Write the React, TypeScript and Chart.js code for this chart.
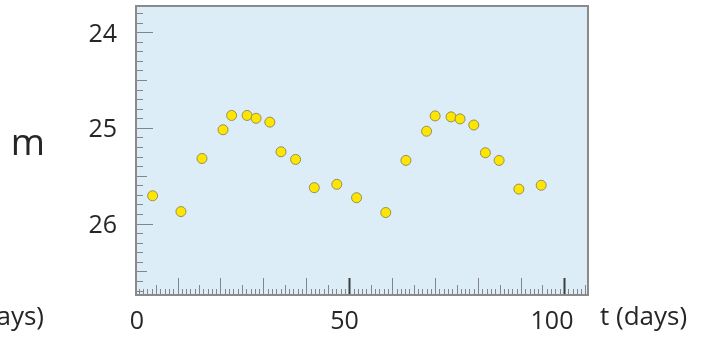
import React, { useEffect, useRef } from 'react';
import { Chart, registerables } from 'chart.js';

Chart.register(...registerables);

// ---- data ----
const timeDays = [4.2, 10.8, 15.7, 20.6, 22.6, 26.2, 28.3, 31.5, 34.1, 37.5, 41.85, 47.1, 51.7, 58.5, 63.2, 68.0, 70.0, 73.7, 75.8, 79.0, 81.7, 84.9, 89.5, 94.7];
const magnitudes = [25.71, 25.875, 25.32, 25.02, 24.87, 24.87, 24.9, 24.94, 25.25, 25.33, 25.625, 25.59, 25.73, 25.885, 25.34, 25.035, 24.875, 24.885, 24.906, 24.97, 25.26, 25.34, 25.64, 25.6];
const xTickLabels = [0, 50, 100];
const yTickLabels = [24, 25, 26];
const xAxisTitle = 't (days)';
const yAxisTitle = 'm';

const FONT = '"Open Sans", "DejaVu Sans", sans-serif';
const TEXT = '#262626';

const framePlugin = {
  id: 'framePlugin',
  beforeDatasetsDraw(chart: any) {
    const { ctx, chartArea: a, scales } = chart;
    const x = scales.x;
    const y = scales.y;
    ctx.save();
    ctx.fillStyle = '#dcedf7';
    ctx.fillRect(a.left, a.top, a.right - a.left, a.bottom - a.top);

    // x ticks (inward from bottom)
    for (let d = Math.ceil(x.min); d <= Math.floor(x.max); d++) {
      const px = Math.round(x.getPixelForValue(d)) + 0.5;
      let len = 6;
      let color = '#858585';
      let w = 1;
      if (d % 50 === 0) { len = 17; color = '#3c3c3c'; w = 2; }
      else if (d % 10 === 0) len = 17;
      else if (d % 5 === 0) len = 10;
      ctx.strokeStyle = color;
      ctx.lineWidth = w;
      ctx.beginPath();
      ctx.moveTo(px, a.bottom);
      ctx.lineTo(px, a.bottom - len);
      ctx.stroke();
    }

    // y ticks (inward from left)
    const lo = Math.min(y.min, y.max);
    const hi = Math.max(y.min, y.max);
    for (let i = Math.ceil(lo * 10); i <= Math.floor(hi * 10); i++) {
      const v = i / 10;
      const py = Math.round(y.getPixelForValue(v)) + 0.5;
      let len = 7;
      if (i % 10 === 0) len = 17;
      else if (i % 5 === 0) len = 11;
      ctx.strokeStyle = '#858585';
      ctx.lineWidth = 1;
      ctx.beginPath();
      ctx.moveTo(a.left, py);
      ctx.lineTo(a.left + len, py);
      ctx.stroke();
    }
    ctx.restore();
  },
  afterDraw(chart: any) {
    const { ctx, chartArea: a, scales } = chart;
    const x = scales.x;
    const y = scales.y;
    ctx.save();
    // frame
    ctx.strokeStyle = '#8a8a8a';
    ctx.lineWidth = 2;
    ctx.strokeRect(a.left, a.top, a.right - a.left, a.bottom - a.top);

    ctx.fillStyle = TEXT;
    ctx.font = `25px ${FONT}`;
    ctx.textBaseline = 'alphabetic';

    // y labels
    ctx.textAlign = 'right';
    for (const v of yTickLabels) {
      const py = y.getPixelForValue(v);
      ctx.fillText(String(v), a.left - 19, py + 9.5);
    }
    // x labels
    for (const v of xTickLabels) {
      const px = x.getPixelForValue(v);
      ctx.fillText(String(v), px + 9.5, a.bottom + 34);
    }
    // x axis title (and clipped copy at the left edge)
    ctx.font = `26px ${FONT}`;
    ctx.textAlign = 'left';
    ctx.fillText(xAxisTitle, a.right + 12, a.bottom + 30);
    ctx.textAlign = 'right';
    ctx.fillText(xAxisTitle, 44, a.bottom + 30);

    // y axis title
    ctx.textAlign = 'center';
    ctx.font = `37px ${FONT}`;
    ctx.fillText(yAxisTitle, 28, 155);
    ctx.restore();
  },
};

export default function App() {
  const ref = useRef<HTMLCanvasElement>(null);
  useEffect(() => {
    if (!ref.current) return;
    const chart = new Chart(ref.current, {
      type: 'scatter',
      data: {
        datasets: [
          {
            data: timeDays.map((t, i) => ({ x: t, y: magnitudes[i] })),
            backgroundColor: '#ffe600',
            borderColor: '#948f5a',
            borderWidth: 1,
            pointRadius: 5,
            pointHoverRadius: 5,
            showLine: false,
          },
        ],
      },
      options: {
        animation: false,
        responsive: false,
        devicePixelRatio: 1,
        layout: { padding: { left: 136, top: 5, right: 120, bottom: 47 } },
        scales: {
          x: { type: 'linear', min: 0.33, max: 105.6, display: false },
          y: { type: 'linear', min: 23.726, max: 26.747, reverse: true, display: false },
        },
        plugins: {
          legend: { display: false },
          tooltip: { enabled: false },
        },
      },
      plugins: [framePlugin],
    });
    return () => chart.destroy();
  }, []);
  return (
    <div style={{ position: 'absolute', left: 0, top: 0, width: 708, height: 342, background: '#fff' }}>
      <canvas ref={ref} width={708} height={342} style={{ display: 'block' }} />
    </div>
  );
}
